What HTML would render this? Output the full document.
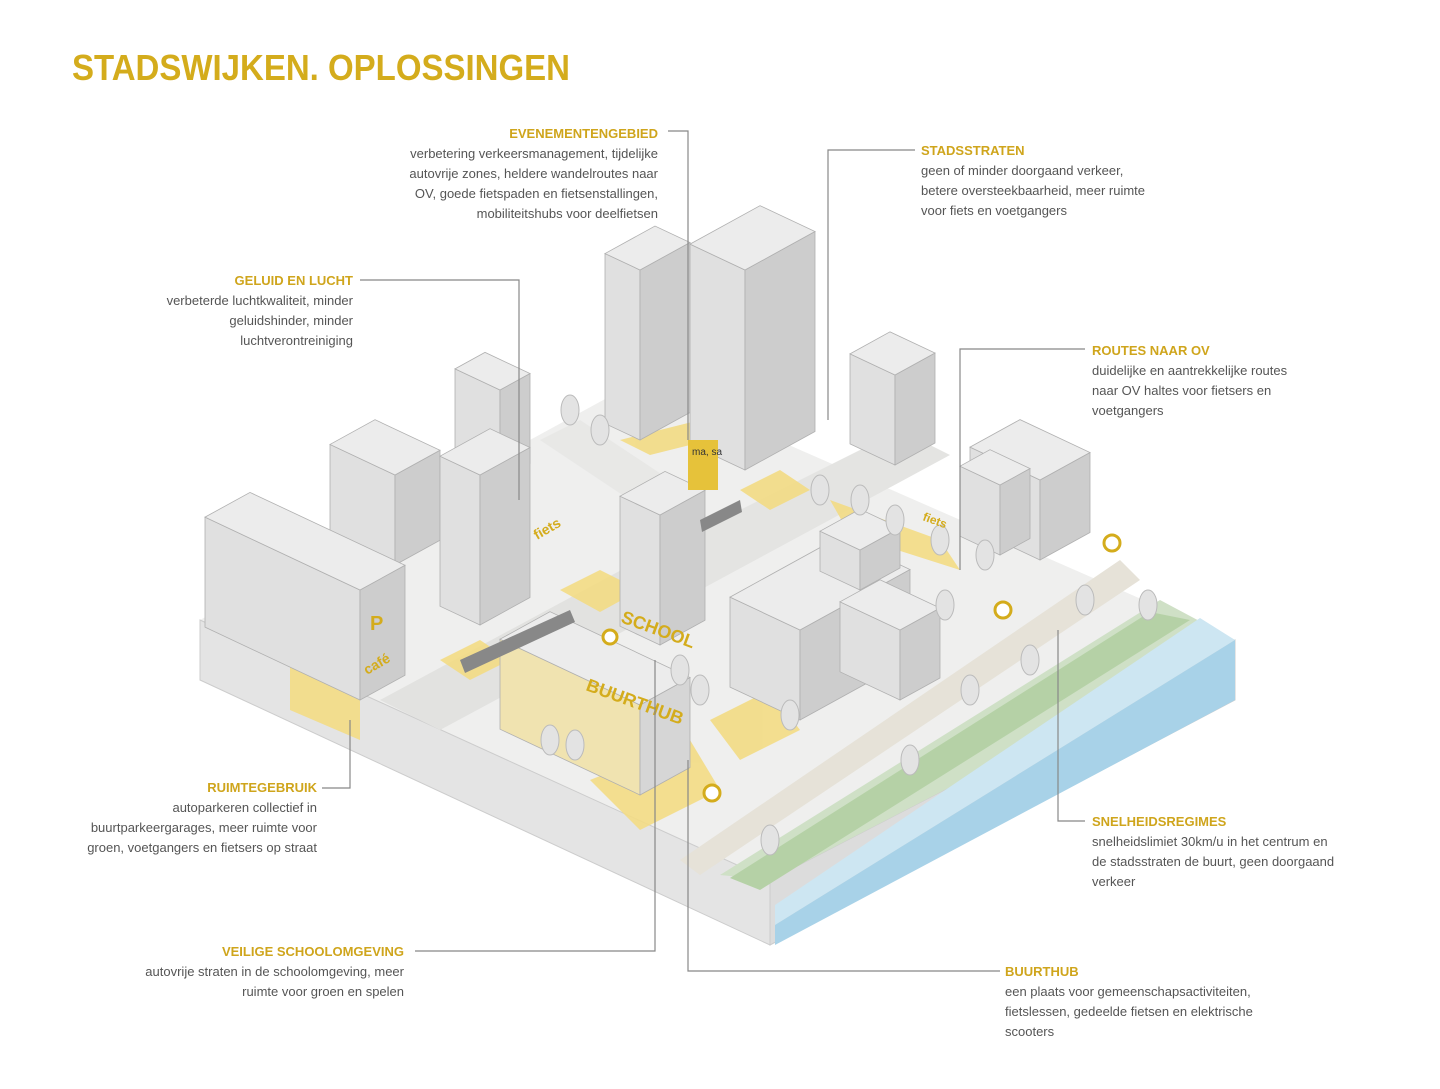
<!DOCTYPE html>
<html><head><meta charset="utf-8">
<style>
html,body{margin:0;padding:0;background:#fff;}
#wrap{position:relative;width:1440px;height:1089px;overflow:hidden;font-family:"Liberation Sans",sans-serif;}
.lb{position:absolute;font-size:13px;line-height:20px;color:#555;white-space:nowrap;}
.lb b{color:#cfa51c;font-weight:bold;display:block;}
.r{text-align:right;}
</style></head><body>
<div id="wrap">
<svg id="s" width="1440" height="1089" style="position:absolute;left:0;top:0">
<text x="72" y="80" font-family="Liberation Sans,sans-serif" font-weight="bold" font-size="36" fill="#d4ac1c" textLength="498" lengthAdjust="spacingAndGlyphs">STADSWIJKEN. OPLOSSINGEN</text>
<polygon points="200,620 640,380 1235,640 770,880" fill="#efefee"/>
<polygon points="200,620 770,880 770,945 200,680" fill="#e4e4e4" stroke="#ccc"/>
<polygon points="770,880 1235,640 1235,700 770,945" fill="#dcdcdc" stroke="#ccc"/>
<polygon points="720,875 1160,600 1235,640 770,880" fill="#cfe0c6"/>
<polygon points="730,878 1150,612 1190,620 760,890" fill="#b5d1a6"/>
<polygon points="775,905 1200,618 1235,640 775,925" fill="#cde6f2"/>
<polygon points="775,925 1235,640 1235,700 775,945" fill="#a8d2e8"/>
<polygon points="380,700 640,560 700,590 440,730" fill="#e2e2e0"/>
<polygon points="640,560 900,430 950,455 700,590" fill="#e4e4e2"/>
<polygon points="680,860 1120,560 1140,580 700,875" fill="#e6e2d8"/>
<polygon points="540,440 660,520 700,500 580,420" fill="#e8e8e6"/>
<g fill="#f3dc84" opacity="0.9">
<polygon points="560,590 600,570 640,590 600,612"/>
<polygon points="440,660 480,640 510,660 470,680"/>
<polygon points="740,490 780,470 810,490 770,510"/>
<polygon points="590,780 690,740 720,790 640,830"/>
<polygon points="710,720 770,690 800,730 740,760"/>
<polygon points="830,500 940,540 960,570 850,535"/>
<polygon points="620,440 700,420 730,435 650,455"/>
<polygon points="290,665 360,695 360,740 290,710"/>
</g>
<g id="b"></g>
<polygon points="460,660 570,610 575,622 465,673" fill="#888"/>
<polygon points="700,520 740,500 742,512 702,532" fill="#888"/>
<rect x="688" y="440" width="30" height="50" fill="#e6c23a"/>
<text x="692" y="455" font-size="10" fill="#333" font-family="Liberation Sans,sans-serif">ma, sa</text>
<g fill="#fff" stroke="#d4ac1c" stroke-width="3">
<circle cx="1112" cy="543" r="8"/><circle cx="1003" cy="610" r="8"/><circle cx="712" cy="793" r="8"/><circle cx="610" cy="637" r="7"/>
</g>
<g font-family="Liberation Sans,sans-serif" font-weight="bold" fill="#d4ac1c">
<text x="620" y="622" font-size="18" transform="rotate(20 620 622)">SCHOOL</text>
<text x="585" y="690" font-size="18" transform="rotate(20 585 690)">BUURTHUB</text>
<text x="370" y="630" font-size="20">P</text>
<text x="367" y="675" font-size="14" transform="rotate(-30 367 675)">café</text>
<text x="537" y="540" font-size="14" transform="rotate(-30 537 540)">fiets</text>
<text x="922" y="520" font-size="12" transform="rotate(20 922 520)">fiets</text>
</g>
<g stroke="#888" stroke-width="1.2" fill="none">
<polyline points="668,131 688,131 688,440"/>
<polyline points="915,150 828,150 828,420"/>
<polyline points="360,280 519,280 519,500"/>
<polyline points="1085,349 960,349 960,570"/>
<polyline points="1085,821 1058,821 1058,630"/>
<polyline points="1000,971 688,971 688,760"/>
<polyline points="415,951 655,951 655,660"/>
<polyline points="322,788 350,788 350,720"/>
</g>
</svg>

<div class="lb r" style="right:782px;top:124px"><b>EVENEMENTENGEBIED</b>verbetering verkeersmanagement, tijdelijke<br>autovrije zones, heldere wandelroutes naar<br>OV, goede fietspaden en fietsenstallingen,<br>mobiliteitshubs voor deelfietsen</div>
<div class="lb" style="left:921px;top:141px"><b>STADSSTRATEN</b>geen of minder doorgaand verkeer,<br>betere oversteekbaarheid, meer ruimte<br>voor fiets en voetgangers</div>
<div class="lb r" style="right:1087px;top:271px"><b>GELUID EN LUCHT</b>verbeterde luchtkwaliteit, minder<br>geluidshinder, minder<br>luchtverontreiniging</div>
<div class="lb" style="left:1092px;top:341px"><b>ROUTES NAAR OV</b>duidelijke en aantrekkelijke routes<br>naar OV haltes voor fietsers en<br>voetgangers</div>
<div class="lb r" style="right:1123px;top:778px"><b>RUIMTEGEBRUIK</b>autoparkeren collectief in<br>buurtparkeergarages, meer ruimte voor<br>groen, voetgangers en fietsers op straat</div>
<div class="lb" style="left:1092px;top:812px"><b>SNELHEIDSREGIMES</b>snelheidslimiet 30km/u in het centrum en<br>de stadsstraten de buurt, geen doorgaand<br>verkeer</div>
<div class="lb r" style="right:1036px;top:942px"><b>VEILIGE SCHOOLOMGEVING</b>autovrije straten in de schoolomgeving, meer<br>ruimte voor groen en spelen</div>
<div class="lb" style="left:1005px;top:962px"><b>BUURTHUB</b>een plaats voor gemeenschapsactiviteiten,<br>fietslessen, gedeelde fietsen en elektrische<br>scooters</div>
</div>
<script>
var g=document.getElementById('b'),ns='http://www.w3.org/2000/svg';
function poly(p,f){var e=document.createElementNS(ns,'polygon');e.setAttribute('points',p.map(function(q){return q[0]+','+q[1]}).join(' '));e.setAttribute('fill',f);e.setAttribute('stroke','#b0b0b0');e.setAttribute('stroke-width','0.8');g.appendChild(e);}
function box(x,y,a,b,h,c){c=c||['#e0e0e0','#cdcdcd','#ececec'];
var P=[x,y],L=[x-a,y-0.47*a],R=[x+b,y-0.55*b],B=[x-a+b,y-0.47*a-0.55*b];
function up(q){return[q[0],q[1]-h];}
poly([L,P,up(P),up(L)],c[0]);poly([P,R,up(R),up(P)],c[1]);poly([up(P),up(R),up(B),up(L)],c[2]);}
function tree(x,y){var e=document.createElementNS(ns,'ellipse');e.setAttribute('cx',x);e.setAttribute('cy',y);e.setAttribute('rx',9);e.setAttribute('ry',15);e.setAttribute('fill','#e3e3e3');e.setAttribute('stroke','#bbb');g.appendChild(e);}
box(500,480,45,30,90);
box(640,440,35,50,170);
box(745,470,55,70,200);
box(895,465,45,40,90);
box(395,565,65,45,90);
box(480,625,40,50,150);
box(360,700,155,45,110);
box(1040,560,70,50,80);
box(1000,555,40,30,70);
box(660,645,40,45,130);
box(800,720,70,110,90);
box(900,700,60,40,70);
box(860,590,40,40,40);
box(640,795,140,50,90,['#f0e3b0','#d6d6d6','#ececec']);
[[600,430],[570,410],[820,490],[860,500],[895,520],[940,540],[985,555],[1085,600],[1148,605],[680,670],[700,690],[790,715],[945,605],[1030,660],[970,690],[910,760],[770,840],[550,740],[575,745]].forEach(function(t){tree(t[0],t[1]);});
</script>
</body></html>
